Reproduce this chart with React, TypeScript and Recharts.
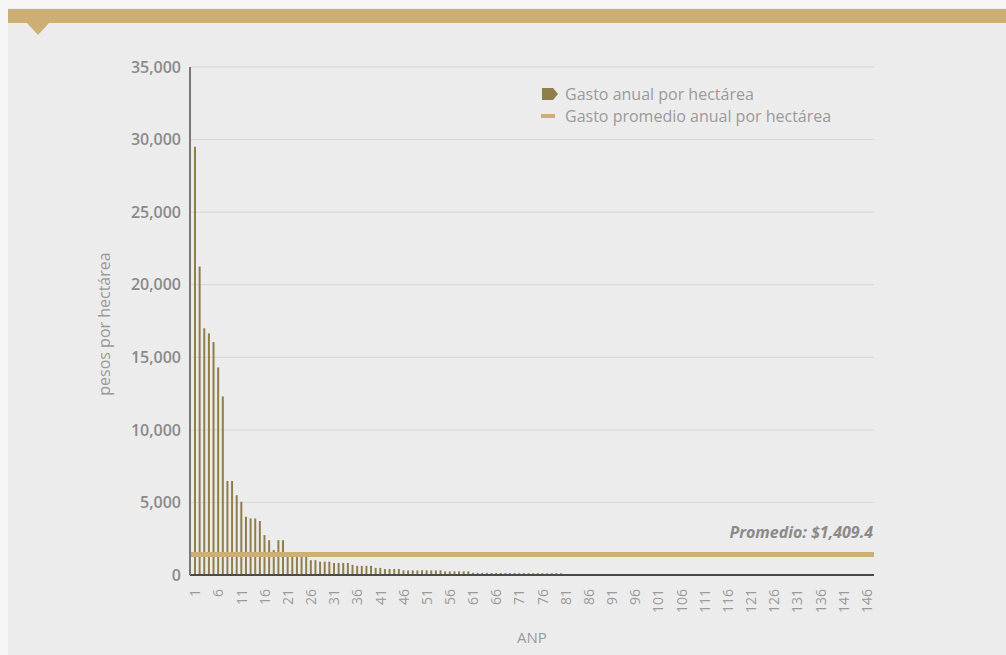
import { Bar, BarChart, CartesianGrid, Legend, ReferenceLine, XAxis, YAxis } from "recharts"

const font = "'Open Sans', 'Noto Sans', sans-serif"
const barColor = "#8f7d4a"
const avgColor = "#cdae74"

// ANP 1..147, gasto anual por hectárea (pesos)
const anp = Array.from({ length: 147 }, (_, i) => String(i + 1))

const gasto = [
  29500, 21250, 17000, 16650, 16050, 14300, 12300, 6480, 6480, 5500,
  5050, 4020, 3900, 3900, 3720, 2750, 2400, 1720, 2400, 2400,
  1450, 1400, 1350, 1300, 1250, 1020, 1020, 920, 920, 920,
  830, 830, 830, 830, 700, 630, 630, 630, 630, 490,
  490, 410, 410, 410, 410, 320, 320, 320, 320, 320,
  320, 320, 320, 320, 250, 250, 250, 250, 250, 250,
  150, 150, 145, 145, 140, 140, 140, 135, 135, 135,
  130, 130, 130, 125, 125, 125, 120, 120, 120, 120,
  50, 48, 46, 45, 44, 42, 40, 39, 38, 37,
  36, 35, 34, 33, 32, 31, 30, 30, 29, 28,
  27, 26, 25, 25, 24, 23, 22, 21, 20, 20,
  19, 18, 18, 17, 16, 15, 15, 14, 13, 12,
  12, 11, 10, 10, 9, 8, 8, 7, 7, 6,
  6, 5, 5, 4, 4, 4, 3, 3, 3, 2,
  2, 2, 2, 1, 1, 1, 1,
]

const promedio = 1409.4

const yTicks = [0, 5000, 10000, 15000, 20000, 25000, 30000, 35000]

const data = anp.map((name, i) => ({ anp: name, gasto: gasto[i] }))

function XTick(props: any) {
  const { x, y, payload } = props
  return (
    <text
      x={x}
      y={y}
      transform={`rotate(-90, ${x}, ${y})`}
      textAnchor="end"
      dy="0.35em"
      fill="#9a9a9a"
      fontSize={14}
      fontFamily={font}
    >
      {payload.value}
    </text>
  )
}

function renderLegend() {
  return (
    <div style={{ fontFamily: font, fontSize: 16, color: "#9a9a9a", lineHeight: "22px" }}>
      <div style={{ display: "flex", alignItems: "center", height: 22 }}>
        <svg width={24} height={22}>
          <path d="M1 5 H12 L17 11 L12 17 H1 Z" fill={barColor} />
        </svg>
        <span>Gasto anual por hectárea</span>
      </div>
      <div style={{ display: "flex", alignItems: "center", height: 22 }}>
        <svg width={24} height={22}>
          <rect x={0} y={9} width={14} height={4} fill={avgColor} />
        </svg>
        <span>Gasto promedio anual por hectárea</span>
      </div>
    </div>
  )
}

export default function App() {
  return (
    <div style={{ position: "absolute", left: 0, top: 0, width: 1006, height: 655, background: "#f5f5f5", overflow: "hidden" }}>
      <div style={{ position: "absolute", left: 8, top: 8, right: 0, bottom: 0, background: "#ececec" }} />
      <div style={{ position: "absolute", left: 8, top: 9, right: 0, height: 14, background: avgColor }} />
      <svg style={{ position: "absolute", left: 0, top: 0 }} width={60} height={40}>
        <path d="M27 23 L49 23 L38 35 Z" fill={avgColor} />
      </svg>
      <div style={{ position: "absolute", left: 0, top: 0 }}>
        <BarChart
          width={1006}
          height={655}
          data={data}
          margin={{ top: 67, right: 132, bottom: 0, left: 90 }}
        >
          <CartesianGrid vertical={false} stroke="#d6d6d6" />
          <XAxis
            dataKey="anp"
            interval={4}
            height={80}
            padding={{ left: 3, right: 0 }}
            tickLine={false}
            tickMargin={8}
            axisLine={{ stroke: "#4a4a4a", strokeWidth: 2 }}
            tick={<XTick />}
            label={{ value: "ANP", position: "insideBottom", offset: 12, fill: "#9a9a9a", fontSize: 15, fontFamily: font }}
          />
          <YAxis
            width={100}
            domain={[0, 35000]}
            ticks={yTicks}
            tickLine={false}
            tickMargin={3}
            axisLine={{ stroke: "#777777", strokeWidth: 2 }}
            tick={{ fill: "#8a8a8a", fontSize: 16, fontWeight: 600, fontFamily: font }}
            tickFormatter={(v) => v.toLocaleString("en-US")}
            label={(p: any) => {
              const vb = p.viewBox
              const cx = vb.x + 14
              const cy = vb.y + vb.height / 2 + 3
              return (
                <text
                  x={cx}
                  y={cy}
                  transform={`rotate(-90, ${cx}, ${cy})`}
                  textAnchor="middle"
                  dy="0.35em"
                  fill="#999999"
                  fontSize={16}
                  fontFamily={font}
                >
                  pesos por hectárea
                </text>
              )
            }}
          />
          <Bar dataKey="gasto" fill={barColor} barSize={2} isAnimationActive={false} />
          <ReferenceLine
            y={promedio}
            stroke={avgColor}
            strokeWidth={5}
            label={(p: any) => {
              const vb = p.viewBox
              return (
                <text
                  x={vb.x + vb.width - 1}
                  y={vb.y - 17}
                  textAnchor="end"
                  fill="#8a8a8a"
                  fontSize={16}
                  fontWeight={700}
                  fontStyle="italic"
                  fontFamily={font}
                >
                  Promedio: ${promedio.toLocaleString("en-US")}
                </text>
              )
            }}
          />
          <Legend
            layout="vertical"
            verticalAlign="middle"
            align="center"
            content={renderLegend}
            wrapperStyle={{ left: 541, top: 83, width: 320, height: 44 }}
          />
        </BarChart>
      </div>
    </div>
  )
}
